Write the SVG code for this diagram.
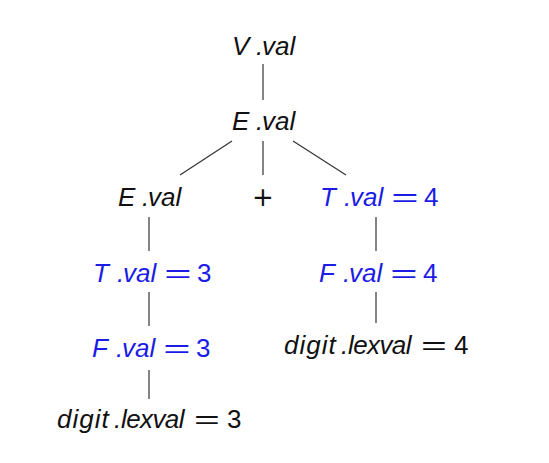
<svg xmlns="http://www.w3.org/2000/svg" width="549" height="463" viewBox="0 0 549 463">
<style>
text{font-family:"Liberation Sans","Noto Sans",sans-serif;font-size:26px;fill:#111}
.i{font-style:italic}
.b,.b text{fill:#1c1ce6}
.eq{text-anchor:middle}
.pl{font-family:"DejaVu Sans",sans-serif;font-size:26px;text-anchor:middle}
.e line{stroke:#333;stroke-width:1.2}
</style>
<rect width="549" height="463" fill="#fff"/>
<g class="e" id="edges">
<line x1="263" y1="64" x2="263" y2="100"/>
<line x1="232" y1="141" x2="180" y2="175"/>
<line x1="263" y1="141" x2="263" y2="175"/>
<line x1="293" y1="141" x2="346" y2="175"/>
<line x1="149" y1="217" x2="149" y2="251"/>
<line x1="376" y1="217" x2="376" y2="251"/>
<line x1="149" y1="292" x2="149" y2="326"/>
<line x1="376" y1="292" x2="376" y2="323"/>
<line x1="149" y1="370" x2="149" y2="399"/>
</g>
<g id="n-V"><text class="i" y="55"><tspan x="232">V</tspan><tspan x="256">.</tspan><tspan x="262">val</tspan></text></g>
<g id="n-E0"><text class="i" y="130"><tspan x="232">E</tspan><tspan x="256">.</tspan><tspan x="262">val</tspan></text></g>
<g id="n-E1"><text class="i" y="206"><tspan x="118">E</tspan><tspan x="142">.</tspan><tspan x="148">val</tspan></text></g>
<g id="n-plus"><text class="pl" x="263" y="206">+</text></g>
<g id="n-T4" class="b"><text class="i" y="206"><tspan x="320">T</tspan><tspan x="344">.</tspan><tspan x="350">val</tspan></text><text class="eq" transform="translate(405,206) scale(1.8,1)">=</text><text x="424" y="206">4</text></g>
<g id="n-T3" class="b"><text class="i" y="282"><tspan x="93">T</tspan><tspan x="117">.</tspan><tspan x="123">val</tspan></text><text class="eq" transform="translate(178,282) scale(1.8,1)">=</text><text x="197" y="282">3</text></g>
<g id="n-F4" class="b"><text class="i" y="282"><tspan x="319">F</tspan><tspan x="343">.</tspan><tspan x="349">val</tspan></text><text class="eq" transform="translate(404,282) scale(1.8,1)">=</text><text x="423" y="282">4</text></g>
<g id="n-F3" class="b"><text class="i" y="357"><tspan x="92">F</tspan><tspan x="116">.</tspan><tspan x="122">val</tspan></text><text class="eq" transform="translate(177,357) scale(1.8,1)">=</text><text x="196" y="357">3</text></g>
<g id="n-d4"><text class="i" y="354"><tspan x="284" letter-spacing="1">digit</tspan><tspan x="341">.</tspan><tspan x="348" letter-spacing="-0.6">lexval</tspan></text><text class="eq" transform="translate(434,354) scale(1.7,1)">=</text><text x="454" y="354">4</text></g>
<g id="n-d3"><text class="i" y="428"><tspan x="57" letter-spacing="1">digit</tspan><tspan x="114">.</tspan><tspan x="121" letter-spacing="-0.6">lexval</tspan></text><text class="eq" transform="translate(207,428) scale(1.7,1)">=</text><text x="227" y="428">3</text></g>
</svg>
